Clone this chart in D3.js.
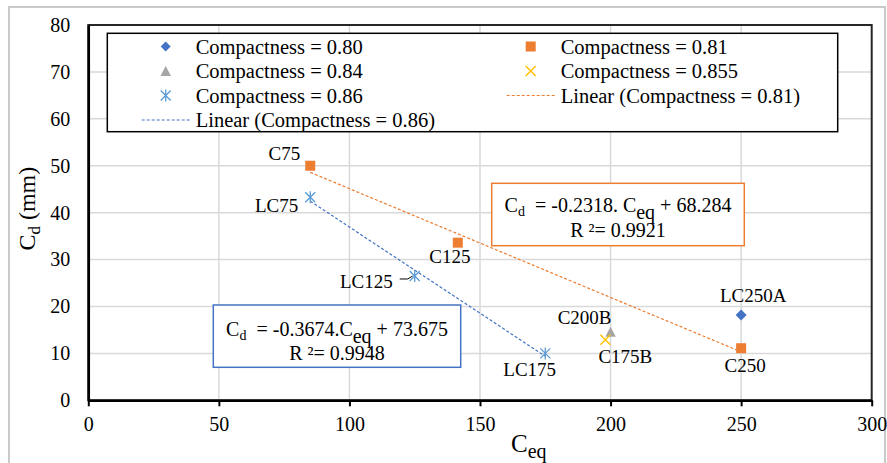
<!DOCTYPE html>
<html>
<head>
<meta charset="utf-8">
<script src="https://cdn.jsdelivr.net/npm/d3@7"></script>
<style>
  body { margin: 0; background: #ffffff; }
  svg text { font-family: "Liberation Serif", "Times New Roman", serif; fill: #000; }
</style>
</head>
<body>
<svg id="chart" width="887" height="463"></svg>
<script>
// ---- data ----
const seriesNames = ["Compactness = 0.80", "Compactness = 0.81", "Compactness = 0.84",
                     "Compactness = 0.855", "Compactness = 0.86"];
const trendNames = ["Linear (Compactness = 0.81)", "Linear (Compactness = 0.86)"];

const ceq080 = [250];
const cd080 = [18.2];
const labels080 = ["LC250A"];

const ceq081 = [85, 141.5, 250];
const cd081 = [50.0, 33.6, 11.1];
const labels081 = ["C75", "C125", "C250"];

const ceq084 = [200];
const cd084 = [14.6];
const labels084 = ["C200B"];

const ceq0855 = [198];
const cd0855 = [12.9];
const labels0855 = ["C175B"];

const ceq086 = [85, 125, 175];
const cd086 = [43.3, 26.5, 10.0];
const labels086 = ["LC75", "LC125", "LC175"];

// fitted lines (slope, intercept, R², x-range)
const fit081 = [-0.2318, 68.284, 0.9921, 85, 250];
const fit086 = [-0.3674, 73.675, 0.9948, 85, 175];

const xTicks = [0, 50, 100, 150, 200, 250, 300];
const yTicks = [0, 10, 20, 30, 40, 50, 60, 70, 80];

// ---- layout ----
const svg = d3.select("#chart");
const x = d3.scaleLinear().domain([0, 300]).range([88.3, 871.7]);
const y = d3.scaleLinear().domain([0, 80]).range([400.3, 25]);

const C = {
  blue: "#4472c4", orange: "#ed7d31", gray: "#a5a5a5",
  yellow: "#ffc000", light: "#5b9bd5", grid: "#d9d9d9"
};
const NBSP = "\u00a0";

// outer chart border
svg.append("rect").attr("x", 9).attr("y", 7).attr("width", 876).attr("height", 480)
  .attr("fill", "none").attr("stroke", "#c9c9c9").attr("stroke-width", 2);

// gridlines
const grid = svg.append("g");
grid.selectAll(".gx").data(xTicks.slice(1, -1)).join("line")
  .attr("x1", d => x(d)).attr("x2", d => x(d)).attr("y1", y(80)).attr("y2", y(0))
  .attr("stroke", C.grid).attr("stroke-width", 1.5);
grid.selectAll(".gy").data(yTicks.slice(1, -1)).join("line")
  .attr("y1", d => y(d)).attr("y2", d => y(d)).attr("x1", x(0)).attr("x2", x(300))
  .attr("stroke", C.grid).attr("stroke-width", 1.5);

// plot frame
svg.append("rect").attr("x", x(0)).attr("y", y(80))
  .attr("width", x(300) - x(0)).attr("height", y(0) - y(80))
  .attr("fill", "none").attr("stroke", "#262626").attr("stroke-width", 2);

// axes
const xAxis = svg.append("g").attr("transform", `translate(0,${y(0)})`)
  .call(d3.axisBottom(x).tickValues(xTicks).tickSize(6).tickPadding(11).tickSizeOuter(0));
const yAxis = svg.append("g").attr("transform", `translate(${x(0)},0)`)
  .call(d3.axisLeft(y).tickValues(yTicks).tickSize(0).tickPadding(18));
[xAxis, yAxis].forEach(g => {
  g.select(".domain").attr("stroke", "#000").attr("stroke-width", 2.5);
  g.selectAll(".tick line").attr("stroke", "#000").attr("stroke-width", 2);
  g.selectAll(".tick text").style("font-family", '"Liberation Serif", serif')
    .style("font-size", "20px").attr("fill", "#000");
});

// axis titles
const yTitle = svg.append("text")
  .attr("transform", `translate(35,${(y(0) + y(80)) / 2 - 4}) rotate(-90)`)
  .attr("text-anchor", "middle").style("font-size", "24px");
yTitle.append("tspan").text("C");
yTitle.append("tspan").text("d").style("font-size", "17px").attr("dy", 5);
yTitle.append("tspan").text(" (mm)").attr("dy", -5);

const xTitle = svg.append("text").attr("x", 511).attr("y", 452).style("font-size", "25px");
xTitle.append("tspan").text("C");
xTitle.append("tspan").text("eq").style("font-size", "20px").attr("dy", 6);

// marker shapes
function marker(g, type, size) {
  const s = size / 2;
  if (type === "diamond") {
    g.append("path").attr("d", `M0,${-s}L${s},0L0,${s}L${-s},0Z`).attr("fill", C.blue);
  } else if (type === "square") {
    g.append("rect").attr("x", -s).attr("y", -s).attr("width", size).attr("height", size)
      .attr("fill", C.orange);
  } else if (type === "triangle") {
    g.append("path").attr("d", `M0,${-s}L${s * 1.05},${s}L${-s * 1.05},${s}Z`).attr("fill", C.gray);
  } else if (type === "x") {
    g.append("path").attr("d", `M${-s},${-s}L${s},${s}M${-s},${s}L${s},${-s}`)
      .attr("stroke", C.yellow).attr("stroke-width", 1.5).attr("fill", "none");
  } else if (type === "asterisk") {
    g.append("path").attr("d", `M${-s},${-s}L${s},${s}M${-s},${s}L${s},${-s}M0,${-s - 1}L0,${s + 1}`)
      .attr("stroke", C.light).attr("stroke-width", 1.3).attr("fill", "none");
  }
}

// trend lines
function trend(fit, color) {
  const [m, b, , x0, x1] = fit;
  svg.append("line")
    .attr("x1", x(x0)).attr("y1", y(m * x0 + b))
    .attr("x2", x(x1)).attr("y2", y(m * x1 + b))
    .attr("stroke", color).attr("stroke-width", 1.2).attr("stroke-dasharray", "3,2");
}
trend(fit081, C.orange);
trend(fit086, C.blue);

// series
const series = [
  { xs: ceq080, ys: cd080, labels: labels080, type: "diamond", size: 11 },
  { xs: ceq081, ys: cd081, labels: labels081, type: "square", size: 10 },
  { xs: ceq084, ys: cd084, labels: labels084, type: "triangle", size: 10 },
  { xs: ceq0855, ys: cd0855, labels: labels0855, type: "x", size: 10 },
  { xs: ceq086, ys: cd086, labels: labels086, type: "asterisk", size: 10 }
];
series.forEach(s => {
  s.xs.forEach((v, i) => {
    const g = svg.append("g").attr("transform", `translate(${x(v)},${y(s.ys[i])})`);
    marker(g, s.type, s.size);
  });
});

// point labels: offset from the point, and anchor
const labelPlacement = {
  "LC250A": [12, -12.6, "middle"],
  "C75": [-10, -6, "end"],
  "C125": [-8, 20.6, "middle"],
  "C250": [4, 23.4, "middle"],
  "C200B": [-26, -7.5, "middle"],
  "C175B": [20, 23.3, "middle"],
  "LC75": [-12, 14.4, "end"],
  "LC125": [-22, 12.3, "end"],
  "LC175": [-15.6, 22.4, "middle"]
};
series.forEach(s => {
  s.xs.forEach((v, i) => {
    const name = s.labels[i];
    const [dx, dy, anchor] = labelPlacement[name];
    svg.append("text").attr("x", x(v) + dx).attr("y", y(s.ys[i]) + dy)
      .attr("text-anchor", anchor).style("font-size", "19px").text(name);
  });
});
// leader line for LC125
{
  const px = x(ceq086[1]), py = y(cd086[1]);
  svg.append("path").attr("d", `M${px - 15},${py + 3}L${px - 7},${py + 3}L${px - 2},${py}`)
    .attr("stroke", "#000").attr("stroke-width", 1).attr("fill", "none");
}

// equation boxes
function eqBox(bx, by, bw, bh, color, parts, r2text, base1, base2) {
  svg.append("rect").attr("x", bx).attr("y", by).attr("width", bw).attr("height", bh)
    .attr("fill", "#fff").attr("stroke", color).attr("stroke-width", 1.5);
  const t = svg.append("text").attr("x", bx + bw / 2).attr("y", base1)
    .attr("text-anchor", "middle").style("font-size", "20px");
  parts.forEach(p => {
    const ts = t.append("tspan").text(p[0]);
    if (p[1] === "sub") ts.style("font-size", p[2] + "px").attr("dy", p[3]);
    else if (p[1] === "back") ts.attr("dy", p[3]);
  });
  svg.append("text").attr("x", bx + bw / 2).attr("y", base2)
    .attr("text-anchor", "middle").style("font-size", "20px").text(r2text);
}
eqBox(491.7, 183.3, 252.6, 62.4, C.orange,
  [["C"], ["d", "sub", 14, 4], [NBSP + NBSP + "= " + fit081[0] + ". C", "back", 0, -4],
   ["eq", "sub", 20, 7], [" + " + fit081[1], "back", 0, -7]],
  "R \u00b2= " + fit081[2], 212.3, 237.3);
eqBox(213.3, 305, 247.4, 62.3, C.blue,
  [["C"], ["d", "sub", 14, 4], [NBSP + NBSP + "= " + fit086[0] + ".C", "back", 0, -4],
   ["eq", "sub", 20, 7], [" + " + fit086[1], "back", 0, -7]],
  "R \u00b2= " + fit086[2], 336, 359.5);

// legend
const leg = svg.append("g");
leg.append("rect").attr("x", 107.3).attr("y", 33.3).attr("width", 730.4).attr("height", 98.4)
  .attr("fill", "#fff").attr("stroke", "#000").attr("stroke-width", 1.5);
const legendItems = [
  { name: seriesNames[0], kind: "diamond", col: 0, row: 0 },
  { name: seriesNames[1], kind: "square", col: 1, row: 0 },
  { name: seriesNames[2], kind: "triangle", col: 0, row: 1 },
  { name: seriesNames[3], kind: "x", col: 1, row: 1 },
  { name: seriesNames[4], kind: "asterisk", col: 0, row: 2 },
  { name: trendNames[0], kind: "lineO", col: 1, row: 2 },
  { name: trendNames[1], kind: "lineB", col: 0, row: 3 }
];
const colX = [195.7, 560.7];
const rowY = d => 46.5 + d * 24.5;
legendItems.forEach(it => {
  const tx = colX[it.col], cy = rowY(it.row);
  if (it.kind === "lineO" || it.kind === "lineB") {
    leg.append("line").attr("x1", tx - 54).attr("x2", tx - 6).attr("y1", cy).attr("y2", cy)
      .attr("stroke", it.kind === "lineO" ? C.orange : C.blue)
      .attr("stroke-width", 1.2).attr("stroke-dasharray", "3,2");
  } else {
    const g = leg.append("g").attr("transform", `translate(${tx - 30},${cy})`);
    marker(g, it.kind, 10);
  }
  leg.append("text").attr("x", tx).attr("y", cy + 7).style("font-size", "20.5px").text(it.name);
});
</script>
</body>
</html>
